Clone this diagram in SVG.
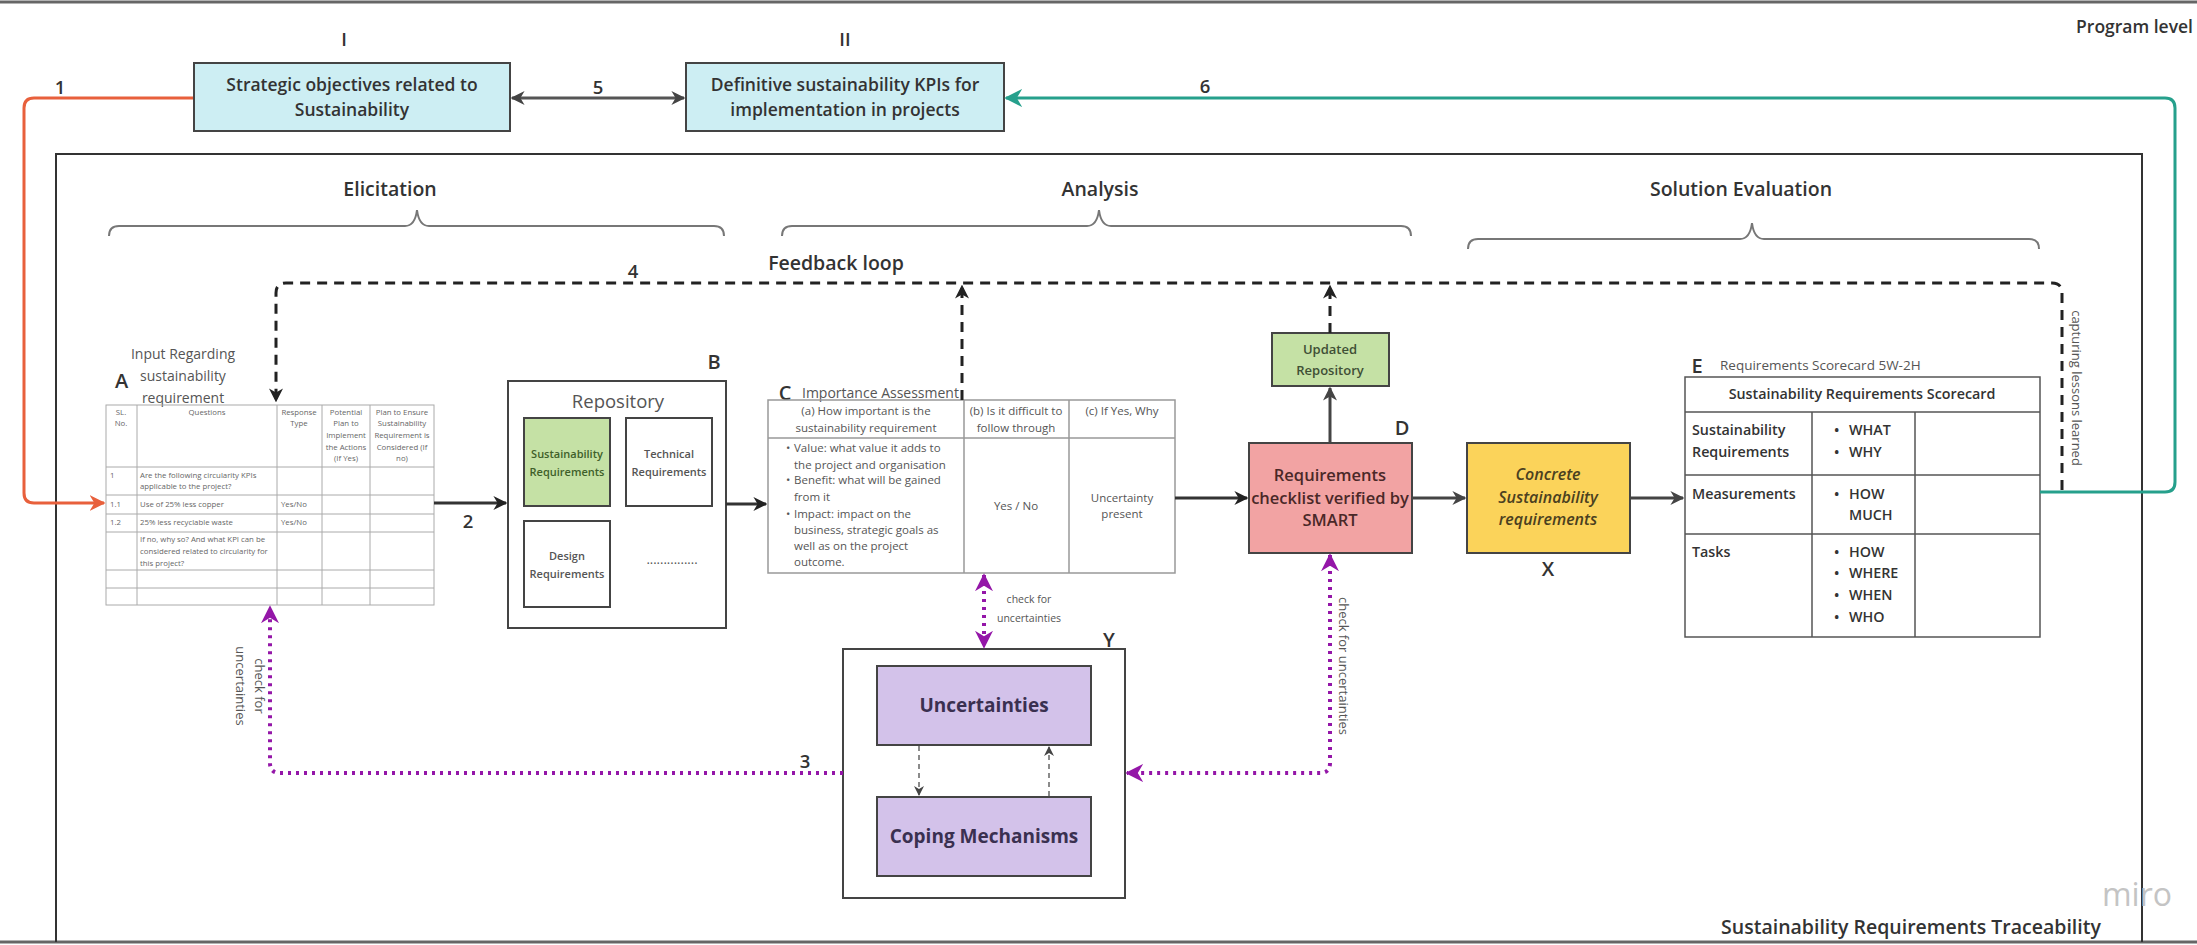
<svg xmlns="http://www.w3.org/2000/svg" width="2197" height="945" viewBox="0 0 2197 945">
<style>
text{font-family:"Open Sans","Liberation Sans",sans-serif;fill:#333;dominant-baseline:central}
.sb{font-weight:600}
.bd{font-weight:700}
.c{text-anchor:middle}
.lbl{font-size:18.5px;font-weight:600;fill:#333}
.big{font-size:20px;font-weight:600;fill:#333}
.sec{font-size:19.5px;font-weight:600;fill:#333}
.gray{fill:#555}
.ta{font-size:7.8px;fill:#666}
.tc{font-size:11.5px;fill:#555}
.te{font-size:14.3px;font-weight:600;fill:#333}
.grid{stroke:#aaa;stroke-width:1;fill:none}
.gridc{stroke:#999;stroke-width:1.5;fill:none}
.gride{stroke:#555;stroke-width:1.5;fill:none}
.box{stroke:#444;stroke-width:2}
.conn{fill:none;stroke-width:3}
.blk{stroke:#333}
.dash{stroke:#222;stroke-dasharray:10 7}
.pur{stroke:#9416a8;stroke-dasharray:3 5;stroke-width:4}
.brace{fill:none;stroke:#777;stroke-width:2}
</style>
<defs>
<marker id="ab" viewBox="0 0 10 10" refX="9" refY="5" markerWidth="14" markerHeight="14" markerUnits="userSpaceOnUse" orient="auto-start-reverse"><path d="M0,0 L10,5 L0,10 L3,5 z" fill="#222"/></marker>
<marker id="ag" viewBox="0 0 10 10" refX="9" refY="5" markerWidth="14" markerHeight="14" markerUnits="userSpaceOnUse" orient="auto-start-reverse"><path d="M0,0 L10,5 L0,10 L3,5 z" fill="#444"/></marker>
<marker id="ar" viewBox="0 0 10 10" refX="9" refY="5" markerWidth="16" markerHeight="16" markerUnits="userSpaceOnUse" orient="auto-start-reverse"><path d="M0,0 L10,5 L0,10 L3,5 z" fill="#e8603c"/></marker>
<marker id="at" viewBox="0 0 10 10" refX="9" refY="5" markerWidth="18" markerHeight="18" markerUnits="userSpaceOnUse" orient="auto-start-reverse"><path d="M0,0 L10,5 L0,10 L3,5 z" fill="#26a08c"/></marker>
<marker id="ap" viewBox="0 0 10 10" refX="9" refY="5" markerWidth="18" markerHeight="18" markerUnits="userSpaceOnUse" orient="auto-start-reverse"><path d="M0,0 L10,5 L0,10 L3,5 z" fill="#9416a8"/></marker>
<marker id="asm" viewBox="0 0 10 10" refX="9" refY="5" markerWidth="10" markerHeight="10" markerUnits="userSpaceOnUse" orient="auto-start-reverse"><path d="M0,0 L10,5 L0,10 L3,5 z" fill="#444"/></marker>
</defs>
<rect width="2197" height="945" fill="#fff"/>
<line x1="0" y1="2" x2="2197" y2="2" stroke="#666" stroke-width="3"/>
<line x1="0" y1="942" x2="2197" y2="942" stroke="#666" stroke-width="3"/>

<g id="frame">
<path d="M56,942 V154 H2142 V942" fill="none" stroke="#333" stroke-width="2"/>
<text x="2193" y="26" class="sb" text-anchor="end" font-size="17.5">Program level</text>
<text x="1911" y="926" class="c sb" font-size="19.5">Sustainability Requirements Traceability</text>
<text x="2137" y="893" class="c" font-size="32" style="fill:#c4c4c4">miro</text>
<text x="390" y="188" class="c sec">Elicitation</text>
<text x="1100" y="188" class="c sec">Analysis</text>
<text x="1741" y="188" class="c sec">Solution Evaluation</text>
<path class="brace" d="M109,236 Q109,226 119,226 H405 Q415,226 417,210 Q419,226 429,226 H714 Q724,226 724,236"/>
<path class="brace" d="M782,236 Q782,226 792,226 H1087 Q1097,226 1099,210 Q1101,226 1111,226 H1401 Q1411,226 1411,236"/>
<path class="brace" d="M1468,249 Q1468,239 1478,239 H1740 Q1750,239 1752,223 Q1754,239 1764,239 H2029 Q2039,239 2039,249"/>
<text x="836" y="262" class="c sb" font-size="19.5">Feedback loop</text>
</g>

<g id="nodeI">
<text x="344" y="38" class="c lbl">I</text>
<rect x="194" y="63" width="316" height="68" fill="#cdeef3" class="box"/>
<text x="352" y="84" class="c sb" font-size="17.5">Strategic objectives related to</text>
<text x="352" y="109" class="c sb" font-size="17.5">Sustainability</text>
</g>
<g id="nodeII">
<text x="845" y="38" class="c lbl">II</text>
<rect x="686" y="63" width="318" height="68" fill="#cdeef3" class="box"/>
<text x="845" y="84" class="c sb" font-size="17.5">Definitive sustainability KPIs for</text>
<text x="845" y="109" class="c sb" font-size="17.5">implementation in projects</text>
</g>

<g id="nodeA">
<text x="115" y="380" class="big" font-size="21">A</text>
<text x="183" y="353" class="c gray" font-size="14">Input Regarding</text>
<text x="183" y="375" class="c gray" font-size="14">sustainability</text>
<text x="183" y="397" class="c gray" font-size="14">requirement</text>
<rect x="106" y="405" width="328" height="200" fill="#fff" class="grid"/>
<path class="grid" d="M137,405 V605 M277,405 V605 M322,405 V605 M370,405 V605 M106,467 H434 M106,495 H434 M106,514 H434 M106,532 H434 M106,570 H434 M106,588 H434"/>
<g>
<text x="121" y="412" class="c ta">SL.</text><text x="121" y="423" class="c ta">No.</text>
<text x="207" y="412" class="c ta">Questions</text>
<text x="299" y="412" class="c ta">Response</text><text x="299" y="423" class="c ta">Type</text>
<text x="346" y="412" class="c ta">Potential</text><text x="346" y="423" class="c ta">Plan to</text><text x="346" y="435" class="c ta">Implement</text><text x="346" y="447" class="c ta">the Actions</text><text x="346" y="458" class="c ta">(If Yes)</text>
<text x="402" y="412" class="c ta">Plan to Ensure</text><text x="402" y="423" class="c ta">Sustainability</text><text x="402" y="435" class="c ta">Requirement is</text><text x="402" y="447" class="c ta">Considered (If</text><text x="402" y="458" class="c ta">no)</text>
<text x="110" y="475" class="ta">1</text>
<text x="140" y="475" class="ta">Are the following circularity KPIs</text>
<text x="140" y="486" class="ta">applicable to the project?</text>
<text x="110" y="504" class="ta">1.1</text>
<text x="140" y="504" class="ta">Use of 25% less copper</text>
<text x="281" y="504" class="ta">Yes/No</text>
<text x="110" y="522" class="ta">1.2</text>
<text x="140" y="522" class="ta">25% less recyclable waste</text>
<text x="281" y="522" class="ta">Yes/No</text>
<text x="140" y="539" class="ta">If no, why so? And what KPI can be</text>
<text x="140" y="551" class="ta">considered related to circularity for</text>
<text x="140" y="563" class="ta">this project?</text>
</g>
</g>

<g id="nodeB">
<text x="714" y="361" class="c big" font-size="18">B</text>
<rect x="508" y="381" width="218" height="247" fill="#fff" class="box"/>
<text x="618" y="400" class="c gray" font-size="18.5">Repository</text>
<rect x="524" y="418" width="86" height="88" fill="#c5e1a5" class="box"/>
<text x="567" y="453" class="c sb" font-size="11" style="fill:#3f5f2a">Sustainability</text>
<text x="567" y="471" class="c sb" font-size="11" style="fill:#3f5f2a">Requirements</text>
<rect x="626" y="418" width="86" height="88" fill="#fff" class="box"/>
<text x="669" y="453" class="c sb gray" font-size="11">Technical</text>
<text x="669" y="471" class="c sb gray" font-size="11">Requirements</text>
<rect x="524" y="521" width="86" height="86" fill="#fff" class="box"/>
<text x="567" y="555" class="c sb gray" font-size="11">Design</text>
<text x="567" y="573" class="c sb gray" font-size="11">Requirements</text>
<text x="672" y="559" class="c gray" font-size="13">...............</text>
</g>

<g id="nodeC">
<text x="785" y="392" class="c big" font-size="18">C</text>
<text x="802" y="392" class="gray" font-size="14">Importance Assessment</text>
<rect x="768" y="400" width="407" height="173" fill="#fff" class="gridc"/>
<path class="gridc" d="M964,400 V573 M1069,400 V573 M768,438 H1175"/>
<text x="866" y="410" class="c tc">(a) How important is the</text>
<text x="866" y="427" class="c tc">sustainability requirement</text>
<text x="1016" y="410" class="c tc">(b) Is it difficult to</text>
<text x="1016" y="427" class="c tc">follow through</text>
<text x="1122" y="410" class="c tc">(c) If Yes, Why</text>
<text x="786" y="447" class="tc">•</text><text x="794" y="447" class="tc">Value: what value it adds to</text>
<text x="794" y="464" class="tc">the project and organisation</text>
<text x="786" y="479" class="tc">•</text><text x="794" y="479" class="tc">Benefit: what will be gained</text>
<text x="794" y="496" class="tc">from it</text>
<text x="786" y="513" class="tc">•</text><text x="794" y="513" class="tc">Impact: impact on the</text>
<text x="794" y="529" class="tc">business, strategic goals as</text>
<text x="794" y="545" class="tc">well as on the project</text>
<text x="794" y="561" class="tc">outcome.</text>
<text x="1016" y="505" class="c tc">Yes / No</text>
<text x="1122" y="497" class="c tc">Uncertainty</text>
<text x="1122" y="513" class="c tc">present</text>
</g>

<g id="nodeUpdated">
<rect x="1272" y="333" width="117" height="53" fill="#c5e1a5" class="box"/>
<text x="1330" y="349" class="c sb" font-size="13" style="fill:#3f4f35">Updated</text>
<text x="1330" y="370" class="c sb" font-size="13" style="fill:#3f4f35">Repository</text>
</g>

<g id="nodeD">
<text x="1402" y="427" class="c big" font-size="18">D</text>
<rect x="1249" y="443" width="163" height="110" fill="#f2a3a3" class="box"/>
<text x="1330" y="474" class="c sb" font-size="16.5" style="fill:#4a2828">Requirements</text>
<text x="1330" y="497" class="c sb" font-size="16.5" style="fill:#4a2828">checklist verified by</text>
<text x="1330" y="519" class="c sb" font-size="16.5" style="fill:#4a2828">SMART</text>
</g>

<g id="nodeX">
<rect x="1467" y="443" width="163" height="110" fill="#fbd35a" class="box"/>
<text x="1548" y="474" class="c sb" font-size="16" font-style="italic" style="fill:#4a4020">Concrete</text>
<text x="1548" y="497" class="c sb" font-size="16" font-style="italic" style="fill:#4a4020">Sustainability</text>
<text x="1548" y="519" class="c sb" font-size="16" font-style="italic" style="fill:#4a4020">requirements</text>
<text x="1548" y="568" class="c big" font-size="18">X</text>
</g>

<g id="nodeE">
<text x="1697" y="365" class="c big" font-size="18">E</text>
<text x="1720" y="365" class="gray" font-size="13.5">Requirements Scorecard 5W-2H</text>
<rect x="1685" y="377" width="355" height="260" fill="#fff" class="gride"/>
<path class="gride" d="M1685,412 H2040 M1685,475 H2040 M1685,534 H2040 M1812,412 V637 M1915,412 V637"/>
<text x="1862" y="393" class="c te">Sustainability Requirements Scorecard</text>
<text x="1692" y="429" class="te">Sustainability</text>
<text x="1692" y="451" class="te">Requirements</text>
<text x="1692" y="493" class="te">Measurements</text>
<text x="1692" y="551" class="te">Tasks</text>
<text x="1834" y="429" class="te">•</text><text x="1849" y="429" class="te">WHAT</text>
<text x="1834" y="451" class="te">•</text><text x="1849" y="451" class="te">WHY</text>
<text x="1834" y="493" class="te">•</text><text x="1849" y="493" class="te">HOW</text>
<text x="1849" y="514" class="te">MUCH</text>
<text x="1834" y="551" class="te">•</text><text x="1849" y="551" class="te">HOW</text>
<text x="1834" y="572" class="te">•</text><text x="1849" y="572" class="te">WHERE</text>
<text x="1834" y="594" class="te">•</text><text x="1849" y="594" class="te">WHEN</text>
<text x="1834" y="616" class="te">•</text><text x="1849" y="616" class="te">WHO</text>
</g>

<g id="nodeY">
<text x="1109" y="639" class="c big" font-size="18">Y</text>
<rect x="843" y="649" width="282" height="249" fill="#fff" class="box"/>
<rect x="877" y="666" width="214" height="79" fill="#d3c2ea" class="box"/>
<text x="984" y="705" class="c bd" font-size="19" style="fill:#3a3050">Uncertainties</text>
<rect x="877" y="797" width="214" height="79" fill="#d3c2ea" class="box"/>
<text x="984" y="836" class="c bd" font-size="19" style="fill:#3a3050">Coping Mechanisms</text>
</g>

<g id="connectors">
<path class="conn" stroke="#e8603c" d="M193,98 H34 Q24,98 24,108 V493 Q24,503 34,503 H104" marker-end="url(#ar)"/>
<text x="60" y="86" class="c lbl">1</text>
<path class="conn" stroke="#555" d="M512,98 H684" marker-start="url(#ag)" marker-end="url(#ag)"/>
<text x="598" y="86" class="c lbl">5</text>
<path class="conn" stroke="#26a08c" d="M2040,492 H2165 Q2175,492 2175,482 V108 Q2175,98 2165,98 H1006" marker-end="url(#at)"/>
<text x="1205" y="85" class="c lbl">6</text>
<path class="conn blk" d="M434,503 H506" marker-end="url(#ab)"/>
<text x="468" y="520" class="c lbl">2</text>
<path class="conn blk" d="M726,504 H766" marker-end="url(#ab)"/>
<path class="conn blk" d="M1175,498 H1247" marker-end="url(#ab)"/>
<path class="conn" stroke="#444" stroke-width="2.5" d="M1412,498 H1465" marker-end="url(#ag)"/>
<path class="conn" stroke="#444" stroke-width="2.5" d="M1630,498 H1683" marker-end="url(#ag)"/>
<path class="conn" stroke="#444" stroke-width="2.5" d="M1330,443 V388" marker-end="url(#ag)"/>
<path class="conn dash" d="M2062,490 V293 Q2062,283 2052,283 H286 Q276,283 276,293 V401" marker-end="url(#ab)"/>
<text x="633" y="270" class="c lbl">4</text>
<path class="conn dash" d="M962,400 V286" marker-end="url(#ab)"/>
<path class="conn dash" d="M1330,333 V286" marker-end="url(#ab)"/>
<text transform="translate(2077,388) rotate(90)" class="c gray" font-size="13">capturing lessons learned</text>
<path class="conn pur" d="M984,575 V647" marker-start="url(#ap)" marker-end="url(#ap)"/>
<text x="1029" y="599" class="c gray" font-size="10.5">check for</text>
<text x="1029" y="618" class="c gray" font-size="10.5">uncertainties</text>
<path class="conn pur" d="M1330,555 V763 Q1330,773 1320,773 H1127" marker-start="url(#ap)" marker-end="url(#ap)"/>
<text transform="translate(1344,666) rotate(90)" class="c gray" font-size="13">check for uncertainties</text>
<path class="conn pur" d="M843,773 H280 Q270,773 270,763 V607" marker-end="url(#ap)"/>
<text x="805" y="760" class="c lbl">3</text>
<g transform="translate(250,686) rotate(90)">
<text x="0" y="-9.5" class="c gray" font-size="13">check for</text>
<text x="0" y="9.5" class="c gray" font-size="13">uncertainties</text>
</g>
<path fill="none" stroke="#666" stroke-width="1.5" stroke-dasharray="5 4" d="M919,746 V795" marker-end="url(#asm)"/>
<path fill="none" stroke="#666" stroke-width="1.5" stroke-dasharray="5 4" d="M1049,796 V747" marker-end="url(#asm)"/>
</g>
</svg>
